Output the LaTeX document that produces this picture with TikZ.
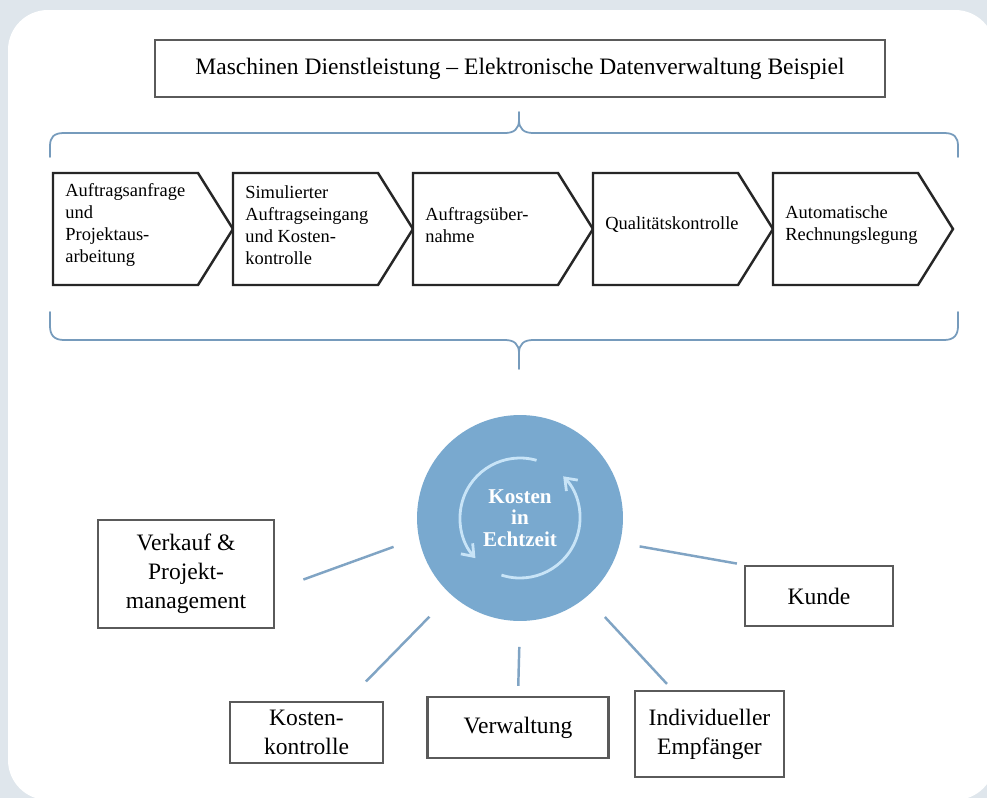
\documentclass[tikz,border=0pt]{standalone}
\usepackage{fontspec}
\setmainfont{Liberation Serif}
\usetikzlibrary{arrows.meta}

\definecolor{panelgray}{RGB}{223,230,236}
\definecolor{hubblue}{RGB}{121,169,207}
\definecolor{spokeblue}{RGB}{128,164,196}
\definecolor{braceblue}{RGB}{118,155,188}
\definecolor{ringblue}{RGB}{200,228,247}
\definecolor{boxgray}{RGB}{90,90,90}

\tikzset{
  chevron/.style={draw=black!85, line width=1.4pt, line join=miter, fill=white},
  steptext/.style={anchor=west, align=left, inner sep=0pt, font=\fontsize{10.5}{12.6}\selectfont},
  labelbox/.style={draw=boxgray, line width=1.4pt, fill=white, align=center, inner sep=2pt,
    font=\fontsize{13.4}{16.4}\selectfont},
  hub/.style={circle, fill=hubblue, minimum size=4.12cm, outer sep=0pt, align=center,
    text=white, font=\bfseries\fontsize{12}{12.2}\selectfont},
  spoke/.style={draw=spokeblue, line width=1.4pt},
  brace/.style={draw=braceblue, line width=1pt, line cap=round},
  cyclearrow/.style={draw=ringblue, line width=1.6pt, -{Straight Barb[length=6pt,width=9pt]}}
}

\begin{document}
\begin{tikzpicture}[x=0.02cm,y=0.02cm]
\useasboundingbox (0,0) rectangle (987,-798);
\fill[panelgray] (0,0) rectangle (987,-798);
\fill[white, rounded corners=0.8cm] (8,-10) rectangle (995,-800);

\node[labelbox, minimum width=14.6cm, minimum height=1.14cm] (title) at (520,-68.5)
   {Maschinen Dienstleistung – Elektronische Datenverwaltung Beispiel};

% braces above and below the process chain
\draw[brace] (50,-157) -- (50,-146) .. controls (50,-137) and (54,-133) .. (64,-133) -- (505,-133)
   .. controls (514,-133) and (519,-129) .. (519,-120) -- (519,-112);
\draw[brace] (519,-120) .. controls (519,-129) and (524,-133) .. (533,-133) -- (944,-133)
   .. controls (954,-133) and (958,-137) .. (958,-146) -- (958,-157);
\draw[brace] (50,-312) -- (50,-326) .. controls (50,-335) and (54,-340) .. (64,-340) -- (505,-340)
   .. controls (514,-340) and (519,-344) .. (519,-353) -- (519,-369);
\draw[brace] (519,-353) .. controls (519,-344) and (524,-340) .. (533,-340) -- (944,-340)
   .. controls (954,-340) and (958,-335) .. (958,-326) -- (958,-312);

\foreach \x/\name/\txt in {53/anfrage/{Auftragsanfrage\\und\\Projektaus-\\arbeitung},
      233/eingang/{Simulierter\\Auftragseingang\\und Kosten-\\kontrolle},
      413/uebernahme/{Auftragsüber-\\nahme},
      593/qualitaet/{Qualitätskontrolle},
      773/rechnung/{Automatische\\Rechnungslegung}}
 {
   \draw[chevron] (\x,-173) -- ++(145,0) -- ++(35,-56) -- ++(-35,-56) -- ++(-145,0) -- cycle;
   \node[steptext] (\name) at (\x+12,-225) {\txt};
 }

\node[hub] (hub) at (520,-518) {Kosten\\in\\Echtzeit};
\draw[cyclearrow] ([shift={(74:60)}]hub.center) arc[start angle=74, end angle=222, radius=60];
\draw[cyclearrow] ([shift={(252:60)}]hub.center) arc[start angle=252, end angle=404, radius=60];

\node[labelbox, minimum width=3.52cm, minimum height=2.16cm] (verkauf) at (186,-574)
   {Verkauf \&\\Projekt-\\management};
\node[labelbox, minimum width=3.06cm, minimum height=1.22cm] (kosten) at (306.5,-732.5)
   {Kosten-\\kontrolle};
\node[labelbox, minimum width=3.62cm, minimum height=1.22cm] (verwaltung) at (518,-727.5)
   {Verwaltung};
\node[labelbox, minimum width=2.98cm, minimum height=1.72cm] (empfaenger) at (709.5,-734)
   {Individueller\\Empfänger};
\node[labelbox, minimum width=2.96cm, minimum height=1.2cm] (kunde) at (819,-596)
   {Kunde};

\draw[spoke, shorten <=0.54cm, shorten >=0.6cm] (hub.191) -- (verkauf.-10);
\draw[spoke, shorten <=0.62cm, shorten >=0.54cm] (hub.228) -- (kosten.38);
\draw[spoke, shorten <=0.52cm, shorten >=0.2cm] (hub.south) -- (verwaltung.north);
\draw[spoke, shorten <=0.55cm, shorten >=0.16cm] (hub.-50) -- (empfaenger.130);
\draw[spoke, shorten <=0.4cm, shorten >=0.14cm] (hub.-14) -- (kunde.north west);
\end{tikzpicture}
\end{document}
